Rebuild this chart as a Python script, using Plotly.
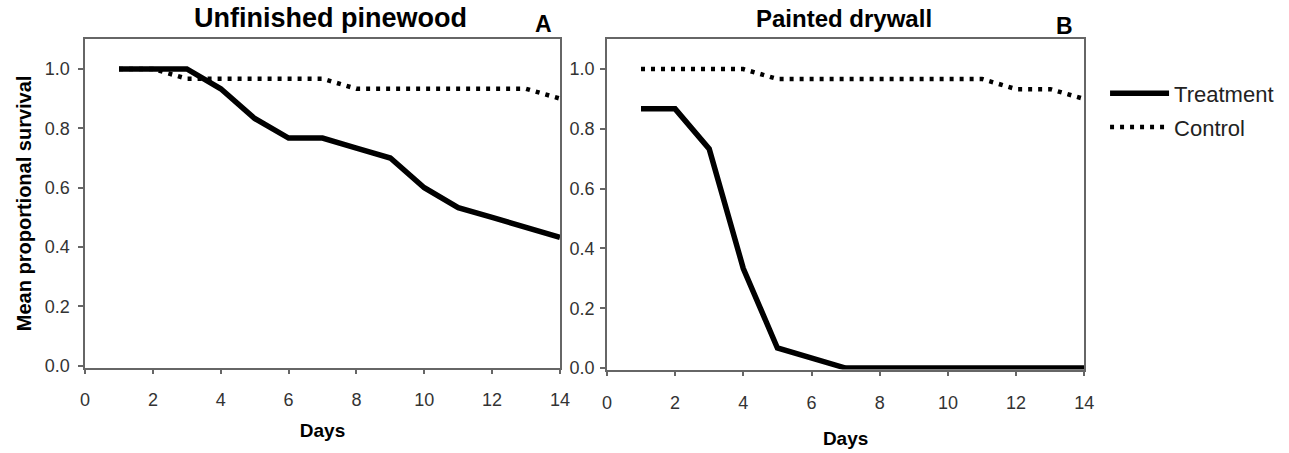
import plotly.graph_objects as go

days = list(range(1, 15))
pine_treatment = [1.0, 1.0, 1.0, 0.933, 0.833, 0.767, 0.767, 0.733, 0.70, 0.60, 0.533, 0.50, 0.467, 0.433]
pine_control = [1.0, 1.0, 0.967, 0.967, 0.967, 0.967, 0.967, 0.933, 0.933, 0.933, 0.933, 0.933, 0.933, 0.90]
dry_treatment = [0.867, 0.867, 0.733, 0.333, 0.067, 0.033, 0.0, 0.0, 0.0, 0.0, 0.0, 0.0, 0.0, 0.0]
dry_control = [1.0, 1.0, 1.0, 1.0, 0.967, 0.967, 0.967, 0.967, 0.967, 0.967, 0.967, 0.933, 0.933, 0.90]

x_ticks = [0, 2, 4, 6, 8, 10, 12, 14]
y_ticks = [0.0, 0.2, 0.4, 0.6, 0.8, 1.0]
panel_titles = ["Unfinished pinewood", "Painted drywall"]
panel_letters = ["A", "B"]

FONT = "Liberation Sans, Arial, sans-serif"
W, H = 1289, 453

solid = dict(color="black", width=5.5)
dotted = dict(color="black", width=4.5, dash="4px,6px")

fig = go.Figure()
fig.add_trace(go.Scatter(x=days, y=pine_treatment, mode="lines", line=solid, name="Treatment",
                         legendgroup="t", xaxis="x", yaxis="y"))
fig.add_trace(go.Scatter(x=days, y=pine_control, mode="lines", line=dotted, name="Control",
                         legendgroup="c", xaxis="x", yaxis="y"))
fig.add_trace(go.Scatter(x=days, y=dry_treatment, mode="lines", line=solid, name="Treatment",
                         showlegend=False, xaxis="x2", yaxis="y2"))
fig.add_trace(go.Scatter(x=days, y=dry_control, mode="lines", line=dotted, name="Control",
                         showlegend=False, xaxis="x2", yaxis="y2"))

axis_common = dict(showline=True, mirror=True, linecolor="#666", linewidth=1.5,
                   ticks="outside", ticklen=5, tickcolor="#666", tickwidth=1.5,
                   showgrid=False, zeroline=False,
                   tickfont=dict(family=FONT, size=18, color="#333"))

xA = [81 / W, 561.5 / W]
xB = [609 / W, 1092 / W]
yA = [1 - 375 / H, 1 - 40 / H]
yB = [1 - 377 / H, 1 - 40 / H]

fig.update_layout(
    width=W, height=H,
    margin=dict(l=0, r=0, t=0, b=0),
    paper_bgcolor="white", plot_bgcolor="white",
    showlegend=True,
    legend=dict(x=1113 / W, y=1 - 74 / H, xanchor="left", yanchor="top",
                font=dict(family=FONT, size=22, color="#222"),
                itemwidth=59, tracegroupgap=2, bgcolor="rgba(0,0,0,0)"),
    xaxis=dict(domain=xA, range=[0, 14], tickvals=x_ticks, anchor="y", ticklabelstandoff=10,
               title=dict(text="<b>Days</b>", font=dict(family=FONT, size=19, color="black"), standoff=15),
               **axis_common),
    yaxis=dict(domain=yA, range=[-0.0056, 1.1], tickvals=y_ticks, tickformat=".1f", anchor="x",
               ticklabelstandoff=5,
               title=dict(text="<b>Mean proportional survival</b>", font=dict(family=FONT, size=20, color="black"), standoff=8),
               **axis_common),
    xaxis2=dict(domain=xB, range=[0, 14], tickvals=x_ticks, anchor="y2", ticklabelstandoff=11,
                title=dict(text="<b>Days</b>", font=dict(family=FONT, size=19, color="black"), standoff=20),
                **axis_common),
    yaxis2=dict(domain=yB, range=[-0.005, 1.1], tickvals=y_ticks, tickformat=".1f", anchor="x2",
                ticklabelstandoff=2,
                **axis_common),
)

annotations = [
    dict(text="<b>" + panel_titles[0] + "</b>", x=329 / W, y=1 - 18 / H, xref="paper", yref="paper",
         showarrow=False, font=dict(family=FONT, size=27, color="black"), xanchor="center", yanchor="middle"),
    dict(text="<b>" + panel_letters[0] + "</b>", x=545 / W, y=1 - 24 / H, xref="paper", yref="paper",
         showarrow=False, font=dict(family=FONT, size=23, color="black"), xanchor="center", yanchor="middle"),
    dict(text="<b>" + panel_titles[1] + "</b>", x=849 / W, y=1 - 19 / H, xref="paper", yref="paper",
         showarrow=False, font=dict(family=FONT, size=24, color="black"), xanchor="center", yanchor="middle"),
    dict(text="<b>" + panel_letters[1] + "</b>", x=1072 / W, y=1 - 27 / H, xref="paper", yref="paper",
         showarrow=False, font=dict(family=FONT, size=23, color="black"), xanchor="center", yanchor="middle"),
]
fig.update_layout(annotations=annotations)

fig.write_html("out.html")
